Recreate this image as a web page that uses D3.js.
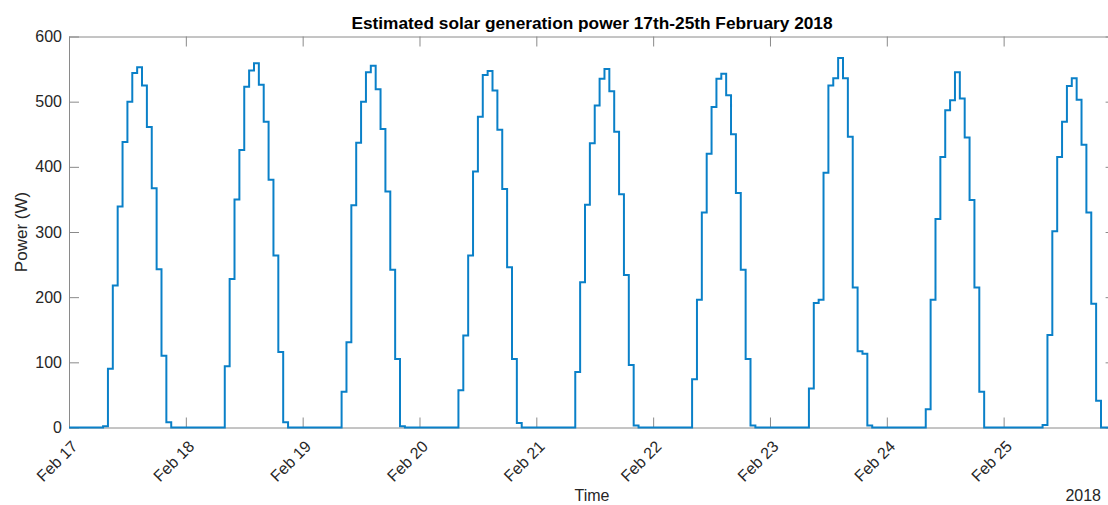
<!DOCTYPE html>
<html>
<head>
<meta charset="utf-8">
<script src="https://cdn.jsdelivr.net/npm/d3@7"></script>
<style>
  body { margin: 0; background: #fff; }
  svg { display: block; font-family: "Liberation Sans", Arial, sans-serif; }
  .axis path, .axis line { stroke: #8a8a8a; }
  .axis text { fill: #262626; font-size: 16px; }
</style>
</head>
<body>
<div id="wrapper"></div>
<script>
// tick labels (one per day, midnight)
const dayLabels = ["Feb 17", "Feb 18", "Feb 19", "Feb 20", "Feb 21", "Feb 22", "Feb 23", "Feb 24", "Feb 25"]
const yTicks = [0, 100, 200, 300, 400, 500, 600]

// hourly estimated power (W), hours 00..23
const feb17 = [0, 0, 0, 0, 0, 0, 0, 2, 90, 218, 339, 438, 500, 544, 553, 525, 461, 367, 243, 110, 8, 0, 0, 0]
const feb18 = [0, 0, 0, 0, 0, 0, 0, 0, 94, 228, 350, 426, 523, 548, 559, 526, 469, 380, 264, 116, 8, 0, 0, 0]
const feb19 = [0, 0, 0, 0, 0, 0, 0, 0, 55, 131, 341, 437, 500, 545, 555, 519, 458, 362, 242, 105, 2, 0, 0, 0]
const feb20 = [0, 0, 0, 0, 0, 0, 0, 0, 57, 141, 264, 393, 477, 541, 547, 517, 457, 366, 246, 105, 7, 0, 0, 0]
const feb21 = [0, 0, 0, 0, 0, 0, 0, 0, 85, 223, 342, 436, 494, 535, 550, 516, 454, 358, 234, 96, 3, 0, 0, 0]
const feb22 = [0, 0, 0, 0, 0, 0, 0, 0, 74, 196, 330, 420, 492, 535, 543, 510, 450, 360, 242, 105, 3, 0, 0, 0]
const feb23 = [0, 0, 0, 0, 0, 0, 0, 0, 60, 191, 196, 391, 525, 536, 567, 536, 446, 215, 117, 113, 3, 0, 0, 0]
const feb24 = [0, 0, 0, 0, 0, 0, 0, 0, 28, 196, 320, 415, 487, 502, 545, 505, 445, 349, 215, 55, 0, 0, 0, 0]
const feb25 = [0, 0, 0, 0, 0, 0, 0, 0, 4, 142, 301, 415, 469, 524, 536, 503, 434, 330, 190, 41, 0, 0, 0, 0]

function drawChart() {
  const days = [feb17, feb18, feb19, feb20, feb21, feb22, feb23, feb24, feb25]
  const dayDates = dayLabels.map((d, i) => new Date(2018, 1, 17 + i))

  // flatten into hourly points
  const series = []
  days.forEach((hours, i) => {
    hours.forEach((v, h) => {
      series.push({ time: new Date(2018, 1, 17 + i, h), value: v })
    })
  })

  const dimensions = {
    width: 1108,
    height: 505,
    margin: { top: 36.5, right: -7.6, bottom: 77.5, left: 69 }
  }
  dimensions.boundedWidth = dimensions.width - dimensions.margin.left - dimensions.margin.right
  dimensions.boundedHeight = dimensions.height - dimensions.margin.top - dimensions.margin.bottom

  const xScale = d3.scaleTime()
    .domain(d3.extent(series, d => d.time))
    .range([0, dimensions.boundedWidth])

  const yScale = d3.scaleLinear()
    .domain([0, 600])
    .range([dimensions.boundedHeight, 0])

  const wrapper = d3.select("#wrapper")
    .append("svg")
      .attr("width", dimensions.width)
      .attr("height", dimensions.height)

  const bounds = wrapper.append("g")
    .attr("transform", `translate(${dimensions.margin.left}, ${dimensions.margin.top})`)

  bounds.append("clipPath")
    .attr("id", "plot-clip")
    .append("rect")
      .attr("x", -1)
      .attr("y", -2)
      .attr("width", dimensions.boundedWidth + 2)
      .attr("height", dimensions.boundedHeight + 4)

  // axes, MATLAB-style box with inward ticks
  const tickLen = 10
  const xAxisBottom = d3.axisBottom(xScale)
    .tickValues(dayDates)
    .tickSizeInner(-tickLen)
    .tickSizeOuter(0)
    .tickFormat((d, i) => dayLabels[i])

  const bottomAxis = bounds.append("g")
    .attr("class", "axis")
    .attr("transform", `translate(0, ${dimensions.boundedHeight})`)
    .call(xAxisBottom)

  bottomAxis.selectAll("text")
    .attr("x", 0)
    .attr("y", 0)
    .attr("dy", null)
    .attr("transform", "translate(9, 20) rotate(-45)")
    .style("text-anchor", "end")

  bounds.append("g")
    .attr("class", "axis")
    .call(d3.axisTop(xScale).tickValues(dayDates).tickSizeInner(-tickLen).tickSizeOuter(0).tickFormat(""))

  bounds.append("g")
    .attr("class", "axis")
    .call(d3.axisLeft(yScale).tickValues(yTicks).tickSizeInner(-tickLen).tickSizeOuter(0).tickPadding(7))

  bounds.append("g")
    .attr("class", "axis")
    .attr("transform", `translate(${dimensions.boundedWidth}, 0)`)
    .call(d3.axisRight(yScale).tickValues(yTicks).tickSizeInner(-tickLen).tickSizeOuter(0).tickFormat(""))

  // stairs line
  const lineGenerator = d3.line()
    .x(d => xScale(d.time))
    .y(d => yScale(d.value))
    .curve(d3.curveStepAfter)

  bounds.append("path")
    .datum(series)
    .attr("clip-path", "url(#plot-clip)")
    .attr("d", lineGenerator)
    .attr("fill", "none")
    .attr("stroke", "#0a80c8")
    .attr("stroke-width", 2)

  // labels
  wrapper.append("text")
    .attr("x", 592)
    .attr("y", 29)
    .attr("text-anchor", "middle")
    .style("font-size", "17.3px")
    .style("font-weight", "bold")
    .style("fill", "#000")
    .text("Estimated solar generation power 17th-25th February 2018")

  wrapper.append("text")
    .attr("x", 592)
    .attr("y", 500.5)
    .attr("text-anchor", "middle")
    .style("font-size", "16px")
    .style("fill", "#262626")
    .text("Time")

  wrapper.append("text")
    .attr("x", 1101)
    .attr("y", 500.5)
    .attr("text-anchor", "end")
    .style("font-size", "16px")
    .style("fill", "#262626")
    .text("2018")

  wrapper.append("text")
    .attr("transform", "translate(27, 232) rotate(-90)")
    .attr("text-anchor", "middle")
    .style("font-size", "17px")
    .style("fill", "#262626")
    .text("Power (W)")
}

drawChart()
</script>
</body>
</html>
